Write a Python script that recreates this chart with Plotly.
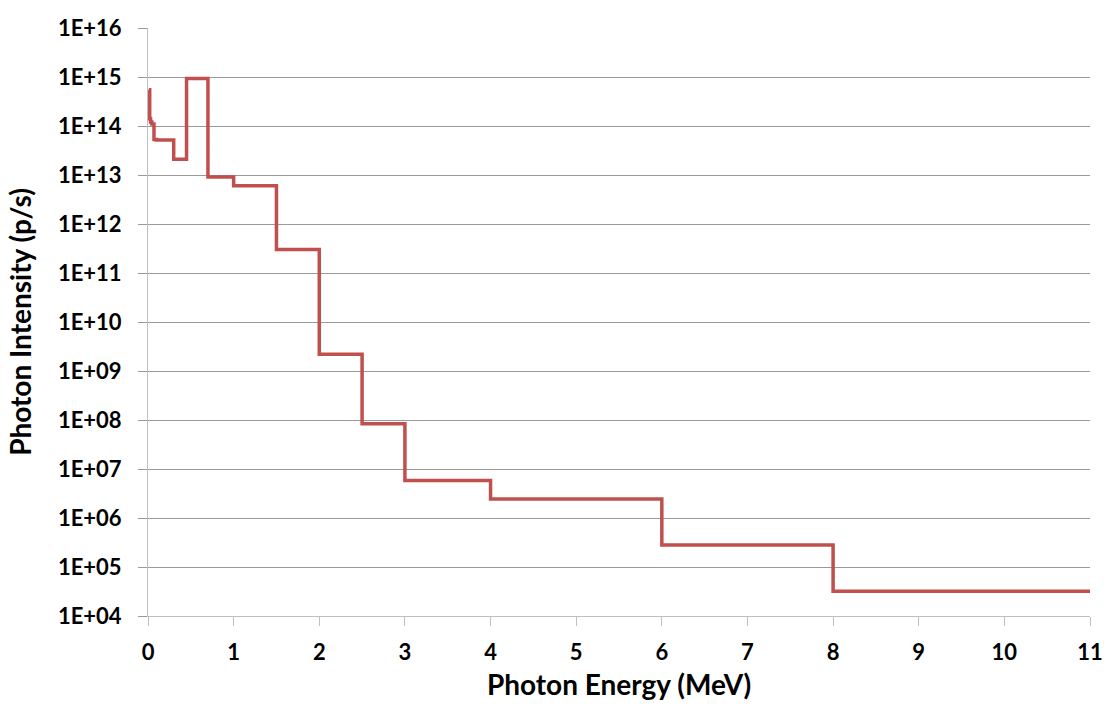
import plotly.graph_objects as go

# Energy group boundaries (MeV) and the photon intensity of each group (p/s)
group_edges = [0.01, 0.02, 0.03, 0.045, 0.07, 0.1, 0.15, 0.3, 0.45, 0.7,
               1.0, 1.5, 2.0, 2.5, 3.0, 4.0, 6.0, 8.0, 11.0]
group_intensity = [5.5e14, 1.4e14, 1.2e14, 1.1e14, 5.3e13, 5.2e13, 5.2e13,
                   2.1e13, 9.3e14, 9.1e12, 6.0e12, 3.0e11, 2.2e9, 8.4e7,
                   5.8e6, 2.45e6, 2.8e5, 3.2e4]

y_tick_exponents = list(range(4, 17))
y_tick_labels = [f"1E+{e:02d}" for e in y_tick_exponents]
x_tick_values = list(range(0, 12))

# Step trace: each value holds from its lower edge to the next edge
step_x = group_edges
step_y = group_intensity + [group_intensity[-1]]

fig = go.Figure()
fig.add_trace(go.Scatter(
    x=step_x, y=step_y, mode="lines", line_shape="hv",
    line=dict(color="#C0504D", width=3.5), showlegend=False,
))

font_family = "Lato"
fig.update_layout(
    width=1104, height=704,
    margin=dict(l=148, r=14, t=28, b=88),
    paper_bgcolor="white", plot_bgcolor="white",
    font=dict(family=font_family, color="#000000"),
)
fig.update_xaxes(
    range=[0, 11], tickvals=x_tick_values,
    tickfont=dict(size=22, weight="bold"),
    showgrid=False, showline=True, linecolor="#BFBFBF", linewidth=1,
    ticks="outside", ticklen=9, tickcolor="#BFBFBF",
    ticklabelstandoff=8,
    zeroline=False, automargin=False,
    title=dict(text="Photon Energy (MeV)", font=dict(size=28, weight="bold"), standoff=10),
)
fig.update_yaxes(
    type="log", range=[4, 16],
    tickvals=[10 ** e for e in y_tick_exponents], ticktext=y_tick_labels,
    tickfont=dict(size=22, weight="bold"),
    showgrid=True, gridcolor="#9A9A9A", gridwidth=1,
    showline=True, linecolor="#BFBFBF", linewidth=1,
    ticks="outside", ticklen=9, tickcolor="#9A9A9A",
    ticklabelstandoff=12,
    zeroline=False, automargin=False,
    title=dict(text="Photon Intensity (p/s)", font=dict(size=28, weight="bold"), standoff=18),
)

fig.write_html("out.html")
